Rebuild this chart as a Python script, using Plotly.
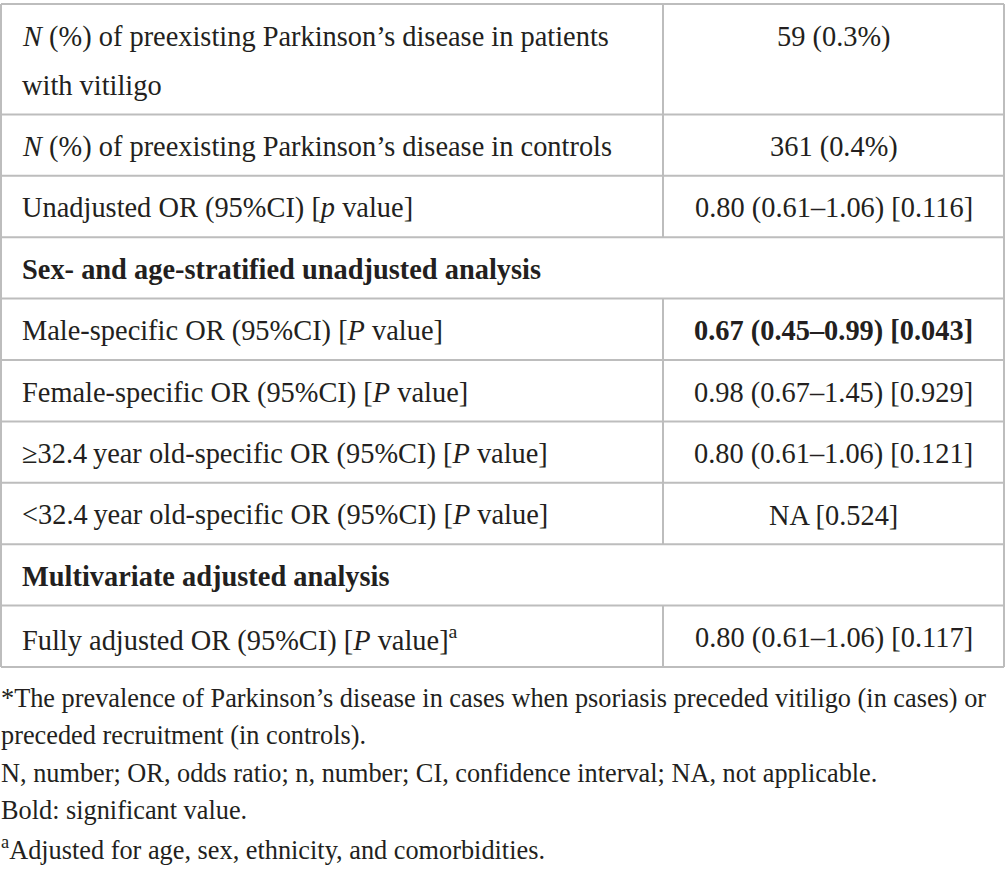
import plotly.graph_objects as go

# table content
row_labels = [
    "<i>N</i> (%) of preexisting Parkinson’s disease in patients<br>with vitiligo",
    "<i>N</i> (%) of preexisting Parkinson’s disease in controls",
    "Unadjusted OR (95%CI) [<i>p</i> value]",
    "<b>Sex- and age-stratified unadjusted analysis</b>",
    "Male-specific OR (95%CI) [<i>P</i> value]",
    "Female-specific OR (95%CI) [<i>P</i> value]",
    "≥32.4\u2009year old-specific OR (95%CI) [<i>P</i> value]",
    "&lt;32.4\u2009year old-specific OR (95%CI) [<i>P</i> value]",
    "<b>Multivariate adjusted analysis</b>",
    "Fully adjusted OR (95%CI) [<i>P</i> value]<sup>a</sup>",
]
row_values = [
    "59 (0.3%)",
    "361 (0.4%)",
    "0.80 (0.61–1.06) [0.116]",
    None,
    "<b>0.67 (0.45–0.99) [0.043]</b>",
    "0.98 (0.67–1.45) [0.929]",
    "0.80 (0.61–1.06) [0.121]",
    "NA [0.524]",
    None,
    "0.80 (0.61–1.06) [0.117]",
]
footnotes = [
    "*The prevalence of Parkinson’s disease in cases when psoriasis preceded vitiligo (in cases) or",
    "preceded recruitment (in controls).",
    "N, number; OR, odds ratio; n, number; CI, confidence interval; NA, not applicable.",
    "Bold: significant value.",
    "<sup>a</sup>Adjusted for age, sex, ethnicity, and comorbidities.",
]

W, H = 1005, 871
TOP = 4
ROW_H = 61.4
LINE_PITCH = 49
LEFT, RIGHT, DIVIDER = 1, 1004, 663
PAD = 21
BASE_OFF = 32.5
FOOT_Y = 698
FOOT_PITCH = 37.5
FONT = "Liberation Serif"
FSIZE = 28.4
FOOT_SIZE = 26.3
TXT = "#231f20"
GRID = "#bdbdbd"

fig = go.Figure()
shapes = []
annos = []

y = TOP
shapes.append(dict(type="line", x0=LEFT, x1=RIGHT, y0=y, y1=y))
for label, value in zip(row_labels, row_values):
    lines = label.split("<br>")
    h = ROW_H + LINE_PITCH * (len(lines) - 1)
    for i, ln in enumerate(lines):
        annos.append(dict(x=PAD, y=y + BASE_OFF + i * LINE_PITCH, text=ln,
                          xanchor="left", yanchor="middle", font=dict(size=FSIZE)))
    if value is not None:
        annos.append(dict(x=(DIVIDER + RIGHT) / 2, y=y + BASE_OFF, text=value,
                          xanchor="center", yanchor="middle", font=dict(size=FSIZE)))
        shapes.append(dict(type="line", x0=DIVIDER, x1=DIVIDER, y0=y, y1=y + h))
    y += h
    shapes.append(dict(type="line", x0=LEFT, x1=RIGHT, y0=y, y1=y))
shapes.append(dict(type="line", x0=LEFT, x1=LEFT, y0=TOP, y1=y))
shapes.append(dict(type="line", x0=RIGHT, x1=RIGHT, y0=TOP, y1=y))

for i, ft in enumerate(footnotes):
    annos.append(dict(x=0, y=FOOT_Y + i * FOOT_PITCH, text=ft,
                      xanchor="left", yanchor="middle", font=dict(size=FOOT_SIZE)))

for s in shapes:
    s.update(xref="x", yref="y", line=dict(color=GRID, width=2))
for a in annos:
    a["font"].update(family=FONT, color=TXT)
    a.update(xref="x", yref="y", showarrow=False, borderpad=0)

fig.update_layout(
    width=W, height=H,
    margin=dict(l=0, r=0, t=0, b=0),
    paper_bgcolor="white", plot_bgcolor="white",
    xaxis=dict(range=[0, W], visible=False, fixedrange=True),
    yaxis=dict(range=[H, 0], visible=False, fixedrange=True),
    shapes=shapes, annotations=annos,
    showlegend=False,
)

# drop the default page margin so the figure sits at the window's corner
fig.write_html("out.html", config={"displayModeBar": False},
               post_script="document.body.style.margin='0';document.body.style.overflow='hidden';")
